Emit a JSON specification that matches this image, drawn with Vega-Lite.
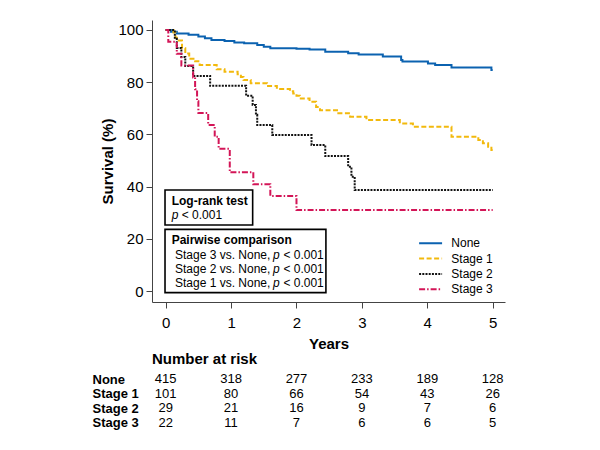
{
  "$schema": "https://vega.github.io/schema/vega-lite/v6.json",
  "background": "white",
  "padding": {"left": 92, "top": 20, "right": 5, "bottom": 5},
  "bounds": "flush",
  "spacing": 70,
  "config": {
    "font": "Liberation Sans",
    "view": {"stroke": null},
    "axis": {"labelFont": "Liberation Sans", "titleFont": "Liberation Sans", "grid": false},
    "legend": {"labelFont": "Liberation Sans"}
  },
  "datasets": {
    "km": [
      {"group": "None", "t": 0, "s": 100},
      {"group": "None", "t": 0.08, "s": 99.3},
      {"group": "None", "t": 0.17, "s": 98.7},
      {"group": "None", "t": 0.35, "s": 98.2},
      {"group": "None", "t": 0.5, "s": 97.5},
      {"group": "None", "t": 0.6, "s": 96.8},
      {"group": "None", "t": 0.7, "s": 96.2},
      {"group": "None", "t": 0.9, "s": 95.8},
      {"group": "None", "t": 1.05, "s": 95.2},
      {"group": "None", "t": 1.2, "s": 94.9},
      {"group": "None", "t": 1.4, "s": 94.3},
      {"group": "None", "t": 1.5, "s": 93.6},
      {"group": "None", "t": 1.6, "s": 93.0},
      {"group": "None", "t": 2.0, "s": 92.8},
      {"group": "None", "t": 2.2, "s": 92.5},
      {"group": "None", "t": 2.44, "s": 91.7},
      {"group": "None", "t": 2.79, "s": 91.1},
      {"group": "None", "t": 2.95, "s": 90.6},
      {"group": "None", "t": 3.32, "s": 89.8},
      {"group": "None", "t": 3.6, "s": 88.5},
      {"group": "None", "t": 3.62, "s": 87.9},
      {"group": "None", "t": 4.01, "s": 87.2},
      {"group": "None", "t": 4.12, "s": 86.6},
      {"group": "None", "t": 4.37, "s": 85.6},
      {"group": "None", "t": 4.98, "s": 84.7},
      {"group": "None", "t": 5.0, "s": 84.7},
      {"group": "Stage 1", "t": 0, "s": 100},
      {"group": "Stage 1", "t": 0.12, "s": 99},
      {"group": "Stage 1", "t": 0.15, "s": 97},
      {"group": "Stage 1", "t": 0.2, "s": 96},
      {"group": "Stage 1", "t": 0.25, "s": 93},
      {"group": "Stage 1", "t": 0.3, "s": 91},
      {"group": "Stage 1", "t": 0.36, "s": 89},
      {"group": "Stage 1", "t": 0.45, "s": 88},
      {"group": "Stage 1", "t": 0.52, "s": 86.6},
      {"group": "Stage 1", "t": 0.78, "s": 85},
      {"group": "Stage 1", "t": 0.9, "s": 84},
      {"group": "Stage 1", "t": 1.1, "s": 83},
      {"group": "Stage 1", "t": 1.15, "s": 82},
      {"group": "Stage 1", "t": 1.19, "s": 80.8},
      {"group": "Stage 1", "t": 1.3, "s": 79.6},
      {"group": "Stage 1", "t": 1.55, "s": 78.5},
      {"group": "Stage 1", "t": 1.7, "s": 77.4},
      {"group": "Stage 1", "t": 1.9, "s": 76.5},
      {"group": "Stage 1", "t": 1.95, "s": 75.7},
      {"group": "Stage 1", "t": 2.0, "s": 74.8},
      {"group": "Stage 1", "t": 2.05, "s": 73.8},
      {"group": "Stage 1", "t": 2.2, "s": 72.5},
      {"group": "Stage 1", "t": 2.3, "s": 70.5},
      {"group": "Stage 1", "t": 2.36, "s": 69.3},
      {"group": "Stage 1", "t": 2.64, "s": 68.1},
      {"group": "Stage 1", "t": 2.82, "s": 66.8},
      {"group": "Stage 1", "t": 3.07, "s": 65.5},
      {"group": "Stage 1", "t": 3.58, "s": 64.2},
      {"group": "Stage 1", "t": 3.78, "s": 62.9},
      {"group": "Stage 1", "t": 4.37, "s": 59.1},
      {"group": "Stage 1", "t": 4.78, "s": 57.9},
      {"group": "Stage 1", "t": 4.85, "s": 56.6},
      {"group": "Stage 1", "t": 4.93, "s": 55.3},
      {"group": "Stage 1", "t": 4.98, "s": 54.0},
      {"group": "Stage 1", "t": 5.0, "s": 54.0},
      {"group": "Stage 2", "t": 0, "s": 100},
      {"group": "Stage 2", "t": 0.14, "s": 96.6},
      {"group": "Stage 2", "t": 0.17, "s": 93.1},
      {"group": "Stage 2", "t": 0.24, "s": 89.7},
      {"group": "Stage 2", "t": 0.3, "s": 86.2},
      {"group": "Stage 2", "t": 0.42, "s": 82.4},
      {"group": "Stage 2", "t": 0.68, "s": 78.6},
      {"group": "Stage 2", "t": 1.23, "s": 74.8},
      {"group": "Stage 2", "t": 1.33, "s": 71.3},
      {"group": "Stage 2", "t": 1.38, "s": 67.5},
      {"group": "Stage 2", "t": 1.4, "s": 63.6},
      {"group": "Stage 2", "t": 1.63, "s": 59.8},
      {"group": "Stage 2", "t": 2.23, "s": 55.9},
      {"group": "Stage 2", "t": 2.44, "s": 51.7},
      {"group": "Stage 2", "t": 2.79, "s": 47.6},
      {"group": "Stage 2", "t": 2.84, "s": 43.8},
      {"group": "Stage 2", "t": 2.89, "s": 38.7},
      {"group": "Stage 2", "t": 5.0, "s": 38.7},
      {"group": "Stage 3", "t": 0, "s": 100},
      {"group": "Stage 3", "t": 0.04, "s": 95.45},
      {"group": "Stage 3", "t": 0.17, "s": 90.9},
      {"group": "Stage 3", "t": 0.24, "s": 86.4},
      {"group": "Stage 3", "t": 0.42, "s": 81.8},
      {"group": "Stage 3", "t": 0.45, "s": 77.3},
      {"group": "Stage 3", "t": 0.48, "s": 72.7},
      {"group": "Stage 3", "t": 0.5, "s": 68.2},
      {"group": "Stage 3", "t": 0.65, "s": 63.6},
      {"group": "Stage 3", "t": 0.75, "s": 59.1},
      {"group": "Stage 3", "t": 0.81, "s": 54.5},
      {"group": "Stage 3", "t": 0.98, "s": 45.5},
      {"group": "Stage 3", "t": 1.34, "s": 40.9},
      {"group": "Stage 3", "t": 1.6, "s": 36.4},
      {"group": "Stage 3", "t": 2.0, "s": 31.0},
      {"group": "Stage 3", "t": 5.0, "s": 31.0}
    ],
    "boxes": [
      {"t": -0.01, "t2": 1.33, "s": 25.3, "s2": 38.7},
      {"t": -0.01, "t2": 2.45, "s": -0.6, "s2": 23.6}
    ],
    "notes": [
      {"t": 0.092, "s": 34.6, "label": "Log-rank test", "style": "bold"},
      {"t": 0.092, "s": 19.5, "label": "Pairwise comparison", "style": "bold"},
      {"t": 0.092, "s": 29.1, "label": "p", "style": "italic"},
      {"t": 0.245, "s": 29.1, "label": "< 0.001", "style": "normal"},
      {"t": 0.142, "s": 13.8, "label": "Stage 3 vs. None,", "style": "normal"},
      {"t": 0.142, "s": 8.4, "label": "Stage 2 vs. None,", "style": "normal"},
      {"t": 0.142, "s": 3.1, "label": "Stage 1 vs. None,", "style": "normal"},
      {"t": 1.64, "s": 13.8, "label": "p", "style": "italic"},
      {"t": 1.64, "s": 8.4, "label": "p", "style": "italic"},
      {"t": 1.64, "s": 3.1, "label": "p", "style": "italic"},
      {"t": 1.8, "s": 13.8, "label": "< 0.001", "style": "normal"},
      {"t": 1.8, "s": 8.4, "label": "< 0.001", "style": "normal"},
      {"t": 1.8, "s": 3.1, "label": "< 0.001", "style": "normal"}
    ],
    "risk": [
      {"group": "None", "t": 0, "n": 415}, {"group": "None", "t": 1, "n": 318}, {"group": "None", "t": 2, "n": 277},
      {"group": "None", "t": 3, "n": 233}, {"group": "None", "t": 4, "n": 189}, {"group": "None", "t": 5, "n": 128},
      {"group": "Stage 1", "t": 0, "n": 101}, {"group": "Stage 1", "t": 1, "n": 80}, {"group": "Stage 1", "t": 2, "n": 66},
      {"group": "Stage 1", "t": 3, "n": 54}, {"group": "Stage 1", "t": 4, "n": 43}, {"group": "Stage 1", "t": 5, "n": 26},
      {"group": "Stage 2", "t": 0, "n": 29}, {"group": "Stage 2", "t": 1, "n": 21}, {"group": "Stage 2", "t": 2, "n": 16},
      {"group": "Stage 2", "t": 3, "n": 9}, {"group": "Stage 2", "t": 4, "n": 7}, {"group": "Stage 2", "t": 5, "n": 6},
      {"group": "Stage 3", "t": 0, "n": 22}, {"group": "Stage 3", "t": 1, "n": 11}, {"group": "Stage 3", "t": 2, "n": 7},
      {"group": "Stage 3", "t": 3, "n": 6}, {"group": "Stage 3", "t": 4, "n": 6}, {"group": "Stage 3", "t": 5, "n": 5}
    ]
  },
  "vconcat": [
    {
      "width": 353,
      "height": 282,
      "layer": [
        {
          "data": {"name": "km"},
          "mark": {"type": "line", "interpolate": "step-after", "strokeWidth": 2},
          "encoding": {
            "x": {
              "field": "t", "type": "quantitative",
              "scale": {"domain": [-0.209, 5.188], "nice": false, "zero": false},
              "axis": {"title": "Years", "values": [0, 1, 2, 3, 4, 5], "format": "d", "tickSize": 6, "labelPadding": 7,
                       "labelFontSize": 15, "labelColor": "black", "titleFontSize": 15, "titleFontWeight": "bold",
                       "titleColor": "black", "titlePadding": 6, "domainColor": "#444", "tickColor": "#444", "labelFlush": false}
            },
            "y": {
              "field": "s", "type": "quantitative",
              "scale": {"domain": [-4.21, 103.83], "nice": false, "zero": false},
              "axis": {"title": "Survival (%)", "values": [0, 20, 40, 60, 80, 100], "tickSize": 6, "labelPadding": 3,
                       "labelFontSize": 15, "labelColor": "black", "titleFontSize": 15, "titleFontWeight": "bold",
                       "titleColor": "black", "titlePadding": 2, "domainColor": "#444", "tickColor": "#444", "labelFlush": false}
            },
            "color": {
              "field": "group", "type": "nominal",
              "scale": {"domain": ["None", "Stage 1", "Stage 2", "Stage 3"], "range": ["#0b62b0", "#f2b90d", "#111111", "#d31557"]},
              "legend": {"orient": "none", "legendX": 272.6, "legendY": 217.3, "title": null, "symbolType": "M-4,0H4",
                         "symbolSize": 33, "symbolStrokeWidth": 2, "labelFontSize": 12, "labelColor": "black",
                         "labelOffset": 14.7, "rowPadding": 3.3, "padding": 0}
            },
            "strokeDash": {
              "field": "group", "type": "nominal",
              "scale": {"domain": ["None", "Stage 1", "Stage 2", "Stage 3"], "range": [[1, 0], [5, 2.5], [2, 1.2], [6, 2, 1.5, 2]]},
              "legend": {"orient": "none", "legendX": 272.6, "legendY": 217.3, "title": null, "symbolType": "M-4,0H4",
                         "symbolSize": 33, "symbolStrokeWidth": 2, "labelFontSize": 12, "labelColor": "black",
                         "labelOffset": 14.7, "rowPadding": 3.3, "padding": 0}
            }
          }
        },
        {
          "data": {"name": "boxes"},
          "mark": {"type": "rect", "fill": "white", "stroke": "black", "strokeWidth": 1.6},
          "encoding": {
            "x": {"field": "t", "type": "quantitative"},
            "x2": {"field": "t2"},
            "y": {"field": "s", "type": "quantitative"},
            "y2": {"field": "s2"}
          }
        },
        {
          "data": {"name": "notes"},
          "transform": [{"filter": "datum.style == 'bold'"}],
          "mark": {"type": "text", "align": "left", "baseline": "middle", "fontSize": 12, "fontWeight": "bold", "color": "black"},
          "encoding": {
            "x": {"field": "t", "type": "quantitative"},
            "y": {"field": "s", "type": "quantitative"},
            "text": {"field": "label"}
          }
        },
        {
          "data": {"name": "notes"},
          "transform": [{"filter": "datum.style == 'italic'"}],
          "mark": {"type": "text", "align": "left", "baseline": "middle", "fontSize": 12, "fontStyle": "italic", "color": "black"},
          "encoding": {
            "x": {"field": "t", "type": "quantitative"},
            "y": {"field": "s", "type": "quantitative"},
            "text": {"field": "label"}
          }
        },
        {
          "data": {"name": "notes"},
          "transform": [{"filter": "datum.style == 'normal'"}],
          "mark": {"type": "text", "align": "left", "baseline": "middle", "fontSize": 12, "color": "black"},
          "encoding": {
            "x": {"field": "t", "type": "quantitative"},
            "y": {"field": "s", "type": "quantitative"},
            "text": {"field": "label"}
          }
        }
      ]
    },
    {
      "width": 353,
      "height": 58,
      "title": {"text": "Number at risk", "anchor": "start", "frame": "group", "fontSize": 15, "fontWeight": "bold", "color": "black", "offset": 5, "font": "Liberation Sans"},
      "data": {"name": "risk"},
      "mark": {"type": "text", "fontSize": 13, "color": "black", "baseline": "middle", "align": "center"},
      "encoding": {
        "x": {"field": "t", "type": "quantitative", "scale": {"domain": [-0.209, 5.188], "nice": false, "zero": false}, "axis": null},
        "y": {
          "field": "group", "type": "ordinal",
          "scale": {"domain": ["None", "Stage 1", "Stage 2", "Stage 3"], "padding": 0.5},
          "axis": {"title": null, "domain": false, "ticks": false, "tickSize": 0, "labelAlign": "left", "labelPadding": 60,
                   "labelFontSize": 13, "labelFontWeight": "bold", "labelColor": "black", "labelBaseline": "middle"}
        },
        "text": {"field": "n", "type": "quantitative"}
      }
    }
  ]
}
